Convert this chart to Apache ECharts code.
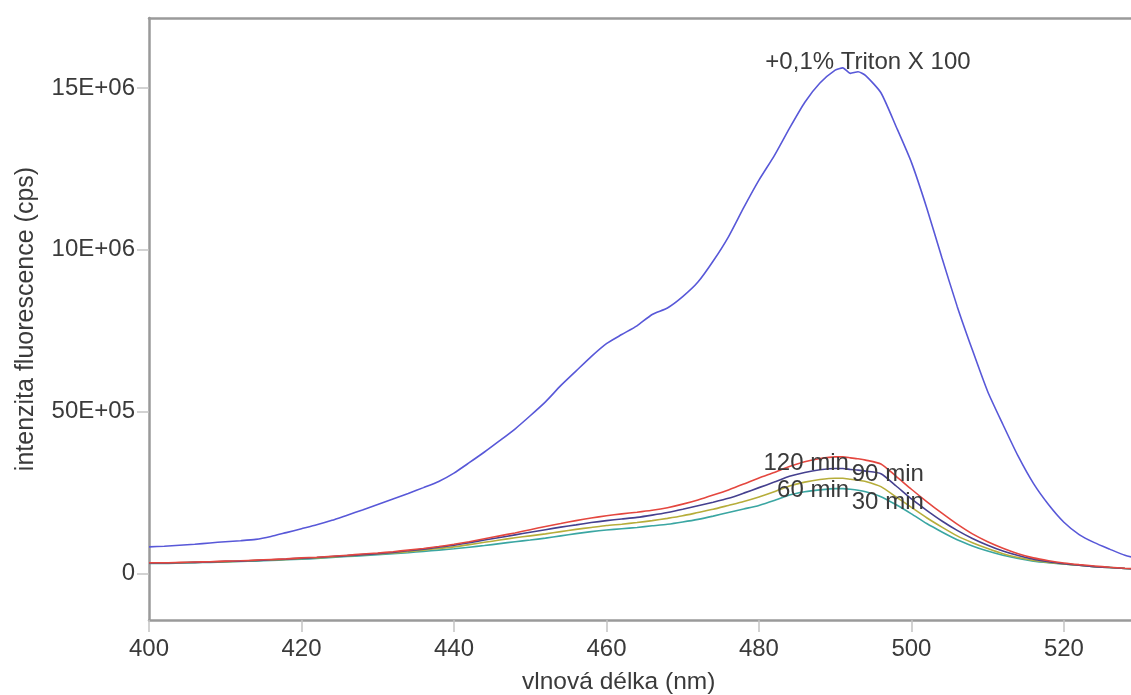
<!DOCTYPE html>
<html>
<head>
<meta charset="utf-8">
<script src="https://cdn.jsdelivr.net/npm/echarts@6/dist/echarts.min.js"></script>
<style>
  html, body { margin: 0; padding: 0; background: #fff; overflow: hidden; }
  #chart { width: 1131px; height: 695px; }
</style>
</head>
<body>
<div id="chart"></div>
<script>
// Emission wavelengths (nm)
const wavelengths = [400,402,404,406,408,410,412,414,416,418,420,422,424,426,428,430,432,434,436,438,
  440,442,444,446,448,450,452,454,456,458,460,462,464,466,468,470,472,474,476,478,480,482,484,486,488,490,
  491,492,493,494,496,498,500,502,504,506,508,510,512,514,516,518,520,522,524,526,528,530];

// Fluorescence intensity, in units of 10^6 cps
const triton = [0.82,0.84,0.87,0.90,0.94,0.98,1.01,1.05,1.14,1.26,1.38,1.50,1.64,1.80,1.96,2.13,2.30,2.47,2.65,2.84,
  3.10,3.42,3.75,4.10,4.46,4.87,5.30,5.80,6.25,6.70,7.10,7.38,7.65,8.00,8.20,8.55,9.00,9.65,10.40,11.30,12.15,12.90,13.75,14.55,15.15,15.55,
  15.62,15.45,15.50,15.38,14.85,13.80,12.70,11.30,9.75,8.25,6.90,5.62,4.60,3.62,2.78,2.12,1.58,1.20,0.95,0.75,0.56,0.45];
const min120 = [0.33,0.33,0.34,0.35,0.36,0.38,0.39,0.41,0.43,0.45,0.48,0.50,0.53,0.56,0.60,0.63,0.67,0.72,0.77,0.83,
  0.90,0.98,1.07,1.16,1.25,1.35,1.45,1.54,1.63,1.71,1.78,1.84,1.89,1.95,2.03,2.14,2.27,2.42,2.58,2.76,2.95,3.12,3.30,3.45,3.55,3.60,
  3.60,3.57,3.54,3.50,3.38,3.00,2.60,2.22,1.86,1.52,1.22,0.98,0.78,0.61,0.48,0.39,0.32,0.27,0.23,0.19,0.16,0.14];
const min90 = [0.32,0.32,0.33,0.34,0.35,0.37,0.38,0.40,0.42,0.44,0.47,0.49,0.52,0.55,0.58,0.61,0.65,0.70,0.75,0.81,
  0.87,0.95,1.03,1.11,1.19,1.27,1.35,1.43,1.50,1.57,1.63,1.68,1.73,1.80,1.88,1.98,2.09,2.20,2.32,2.48,2.65,2.82,3.00,3.12,3.20,3.24,
  3.24,3.21,3.19,3.16,3.08,2.70,2.30,1.95,1.62,1.33,1.08,0.87,0.69,0.55,0.44,0.36,0.30,0.25,0.21,0.18,0.15,0.13];
const min60 = [0.32,0.32,0.33,0.34,0.35,0.36,0.38,0.40,0.41,0.43,0.46,0.48,0.51,0.54,0.57,0.60,0.63,0.67,0.72,0.77,
  0.82,0.89,0.96,1.03,1.10,1.16,1.22,1.29,1.36,1.42,1.48,1.52,1.57,1.63,1.70,1.78,1.88,1.98,2.10,2.22,2.36,2.52,2.70,2.82,2.90,2.94,
  2.94,2.91,2.88,2.84,2.68,2.36,2.04,1.72,1.43,1.16,0.95,0.77,0.61,0.49,0.40,0.34,0.29,0.25,0.21,0.18,0.15,0.13];
const min30 = [0.31,0.31,0.32,0.33,0.34,0.35,0.37,0.38,0.40,0.42,0.44,0.46,0.49,0.52,0.55,0.58,0.61,0.64,0.68,0.72,
  0.76,0.81,0.86,0.92,0.98,1.03,1.09,1.16,1.23,1.29,1.34,1.38,1.42,1.47,1.52,1.59,1.67,1.77,1.88,1.99,2.10,2.25,2.42,2.52,2.58,2.62,
  2.62,2.60,2.57,2.52,2.37,2.12,1.84,1.54,1.28,1.04,0.85,0.69,0.56,0.46,0.38,0.33,0.29,0.25,0.21,0.18,0.15,0.13];

const curveLabels = ['+0,1% Triton X 100', '120 min', '90 min', '60 min', '30 min'];
const xTicks = [400, 420, 440, 460, 480, 500, 520];
const yTicks = [0, 5, 10, 15];
const yTickLabels = ['0', '50E+05', '10E+06', '15E+06'];

const FONT = '"Liberation Sans", Arial, sans-serif';
const TEXT = '#3a3a3a';
const FRAME = '#9a9a9a';

function pairs(ys) { return wavelengths.map((w, i) => [w, ys[i]]); }

function curve(name, ys, color, labelAt) {
  return {
    name: name,
    type: 'line',
    data: pairs(ys),
    showSymbol: false,
    symbol: 'none',
    smooth: 0.2,
    lineStyle: { color: color, width: 1.6 },
    z: 3,
    markPoint: {
      symbol: 'circle',
      symbolSize: 0,
      silent: true,
      label: {
        show: true, position: 'inside', formatter: name, offset: [0, 4],
        color: TEXT, fontFamily: FONT, fontSize: 24
      },
      data: [{ coord: labelAt }]
    }
  };
}

const chart = echarts.init(document.getElementById('chart'), null, { renderer: 'canvas' });
chart.setOption({
  animation: false,
  backgroundColor: '#fff',
  grid: { left: 149, top: 18, right: 0, bottom: 75 },
  xAxis: [{
    type: 'value', min: 400, max: 528.8,
    axisLine: { show: true, onZero: false, lineStyle: { color: FRAME, width: 2.5 } },
    axisTick: { show: true, customValues: xTicks, length: 12, inside: false, lineStyle: { color: '#c4c4c4', width: 1.5 } },
    axisLabel: { customValues: xTicks, fontFamily: FONT, fontSize: 24, color: TEXT, margin: 17 },
    splitLine: { show: false }
  }, {
    // top frame line
    type: 'value', position: 'top', min: 400, max: 528.8,
    axisLine: { show: true, onZero: false, lineStyle: { color: FRAME, width: 2.5 } },
    axisTick: { show: false }, axisLabel: { show: false }, splitLine: { show: false }
  }],
  yAxis: {
    type: 'value', min: -1.44, max: 17.16,
    name: 'intenzita fluorescence (cps)', nameLocation: 'middle', nameGap: 110, nameRotate: 90,
    nameTextStyle: { fontFamily: FONT, fontSize: 25, color: TEXT },
    axisLine: { show: true, onZero: false, lineStyle: { color: FRAME, width: 2.5 } },
    axisTick: { show: true, customValues: yTicks, length: 12, inside: false, lineStyle: { color: '#c4c4c4', width: 1.5 } },
    axisLabel: {
      customValues: yTicks, fontFamily: FONT, fontSize: 24, color: TEXT, margin: 14,
      formatter: v => yTickLabels[yTicks.indexOf(v)]
    },
    splitLine: { show: false }
  },
  graphic: [{
    type: 'text', left: 522, top: 670,
    style: { text: 'vlnová délka (nm)', font: '24.5px ' + FONT, fill: TEXT }
  }],
  series: [
    curve(curveLabels[0], triton, '#5858d8', [494.3, 15.9]),
    curve(curveLabels[4], min30, '#3aa6a2', [496.9, 2.33]),
    curve(curveLabels[3], min60, '#b6ad3a', [487.1, 2.70]),
    curve(curveLabels[2], min90, '#45408f', [496.9, 3.17]),
    curve(curveLabels[1], min120, '#e4473f', [486.2, 3.52])
  ]
});
</script>
</body>
</html>
